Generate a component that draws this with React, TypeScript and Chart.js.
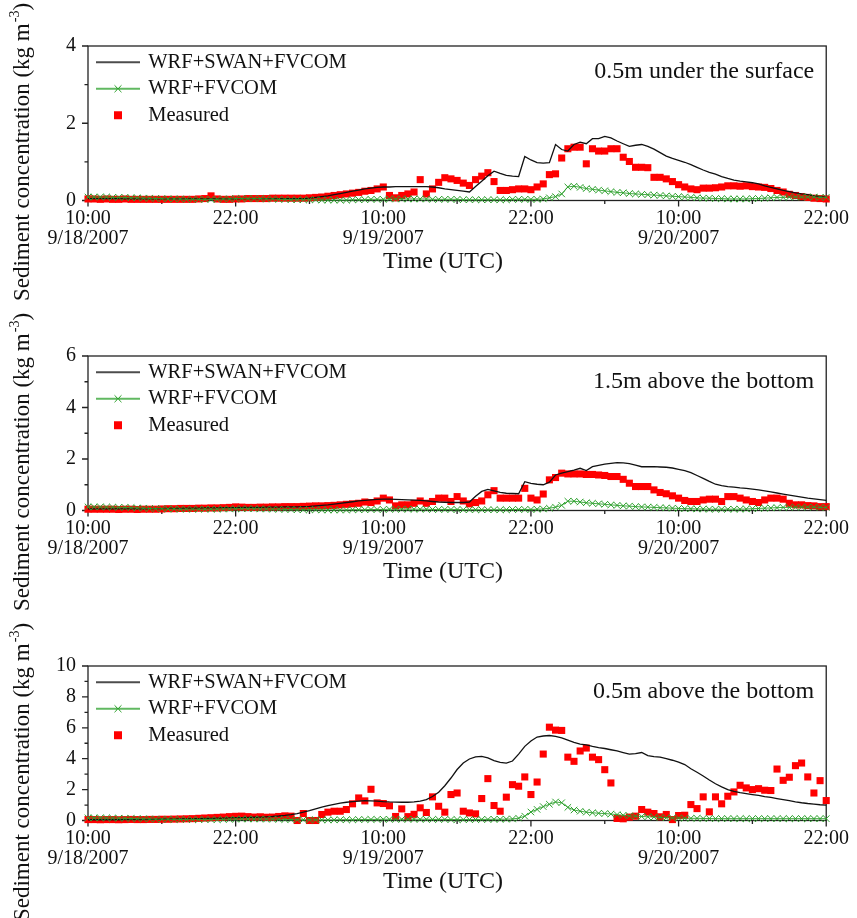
import React, { useEffect, useRef } from 'react';
import { Chart, registerables } from 'chart.js';

Chart.register(...registerables);

// ---- sampling grid and axis labels ----
const STEP_HOURS = 0.5; // one sample every 30 minutes, starting 10:00 9/18/2007
const X_MAX_HOURS = 60;
const X_TICK_HOURS = [0, 12, 24, 36, 48, 60];
const X_TICK_TIMES = ['10:00', '22:00', '10:00', '22:00', '10:00', '22:00'];
const X_TICK_DATES = ['9/18/2007', '', '9/19/2007', '', '9/20/2007', ''];
const X_MINOR_STEP = 6;

const SERIES_NAMES = ['WRF+SWAN+FVCOM', 'WRF+FVCOM', 'Measured'];
const PANEL_LABELS = ['0.5m under the surface', '1.5m above the bottom', '0.5m above the bottom'];
const PANEL_Y_MAX = [4, 6, 10];
const X_TITLE = 'Time (UTC)';
const Y_TITLE_MAIN = 'Sediment concentration (kg m';
const Y_TITLE_SUP = '-3';

// ---- 0.5 m under the surface (kg m-3) ----
const SURFACE_COUPLED = [
  0.05, 0.05, 0.05, 0.05, 0.05, 0.05, 0.04, 0.04, 0.04, 0.04, 0.04, 0.04, 0.04, 0.04, 0.04, 0.04, 0.04, 0.04, 0.04, 0.04,
  0.04, 0.04, 0.04, 0.04, 0.04, 0.05, 0.05, 0.05, 0.05, 0.05, 0.05, 0.05, 0.05, 0.05, 0.05, 0.05,
  0.06, 0.08, 0.10, 0.12, 0.15, 0.18, 0.21, 0.24, 0.27, 0.30, 0.32, 0.34, 0.35,
  0.35, 0.36, 0.36, 0.36, 0.36, 0.36, 0.36, 0.35, 0.33, 0.30, 0.28, 0.26, 0.24, 0.22,
  0.36, 0.50, 0.64, 0.76, 0.70, 0.65, 0.63, 0.62, 1.14, 1.05, 0.98, 0.97, 0.98,
  1.45, 1.32, 1.28, 1.45, 1.51, 1.47, 1.60, 1.60, 1.66, 1.62, 1.54, 1.47, 1.40, 1.43, 1.45,
  1.40, 1.33, 1.24, 1.15, 1.09, 1.04, 0.99, 0.93, 0.86, 0.79, 0.73, 0.68, 0.62, 0.57, 0.53,
  0.50, 0.48, 0.46, 0.43, 0.38, 0.34, 0.30, 0.26, 0.23, 0.20, 0.17, 0.15, 0.12, 0.10, 0.09,
];
const SURFACE_NO_WAVE = [
  0.09, 0.09, 0.09, 0.09, 0.08, 0.08, 0.08, 0.07, 0.07, 0.06, 0.06,
  0.05, 0.05, 0.04, 0.04, 0.04, 0.03, 0.03, 0.03, 0.03, 0.03,
  0.03, 0.04, 0.04, 0.05, 0.05, 0.05, 0.05, 0.05, 0.04, 0.04, 0.03, 0.03, 0.02, 0.02, 0.02, 0.02,
  0.02, 0.01, 0.01, 0.01, 0.01, 0.01, 0.02, 0.02, 0.02, 0.03, 0.03, 0.03,
  0.04, 0.04, 0.04, 0.04, 0.04, 0.04, 0.04, 0.03, 0.03, 0.03, 0.03, 0.03,
  0.02, 0.02, 0.02, 0.02, 0.02, 0.02, 0.02, 0.02, 0.03, 0.03, 0.03, 0.03, 0.03,
  0.04, 0.07, 0.10, 0.17, 0.35, 0.37, 0.34,
  0.31, 0.29, 0.27, 0.25, 0.23, 0.21, 0.20, 0.18, 0.17, 0.16, 0.15, 0.14, 0.13, 0.12, 0.11, 0.10,
  0.09, 0.08, 0.07, 0.06, 0.06, 0.05, 0.05, 0.04, 0.04, 0.04, 0.04, 0.05, 0.05, 0.06,
  0.07, 0.08, 0.08, 0.09, 0.09, 0.09, 0.09, 0.09, 0.08, 0.08,
];
const SURFACE_MEASURED = [
  0.04, 0.04, 0.03, 0.04, 0.03, 0.03, 0.04, 0.03, 0.03, 0.03, 0.03, 0.03, 0.03, 0.03, 0.03, 0.03, 0.03, 0.03, 0.04, 0.05,
  0.12,
  0.04, 0.03, 0.03, 0.04, 0.04, 0.05, 0.05, 0.05, 0.05, 0.06, 0.06, 0.06, 0.06, 0.06, 0.06,
  0.07, 0.08, 0.09, 0.11, 0.13, 0.15, 0.17, 0.19, 0.21, 0.24, 0.26, 0.30,
  0.35, 0.13, 0.07, 0.13, 0.17, 0.22, 0.54, 0.17, 0.30, 0.47, 0.59, 0.56, 0.52,
  0.45, 0.39, 0.54, 0.63, 0.72, 0.49, 0.26, 0.26, 0.28, 0.30, 0.30, 0.28, 0.35,
  0.43, 0.67, 0.69, 1.10, 1.34, 1.38, 1.38, 0.95, 1.34, 1.28, 1.28, 1.34, 1.34,
  1.12, 1.01, 0.86, 0.86, 0.85, 0.60, 0.60, 0.56, 0.49, 0.41, 0.35, 0.30, 0.28,
  0.32, 0.32, 0.33, 0.35, 0.38, 0.38, 0.37, 0.38, 0.36, 0.35, 0.34,
  0.31, 0.26, 0.22, 0.16, 0.13, 0.10, 0.08, 0.06, 0.05, 0.04,
];

// ---- 1.5 m above the bottom (kg m-3) ----
const MIDDLE_COUPLED = [
  0.06, 0.06, 0.06, 0.06, 0.06, 0.06, 0.06, 0.06, 0.06, 0.06, 0.07, 0.07, 0.07, 0.08, 0.08, 0.08, 0.09, 0.09, 0.09, 0.10,
  0.10, 0.10, 0.11, 0.11, 0.11, 0.12, 0.12, 0.12, 0.12, 0.13, 0.13, 0.13, 0.14, 0.14, 0.14, 0.15,
  0.16, 0.18, 0.20, 0.22, 0.25, 0.28, 0.31, 0.34, 0.37, 0.39, 0.41, 0.43, 0.44,
  0.44, 0.43, 0.42, 0.41, 0.40, 0.39, 0.37, 0.35, 0.33, 0.32, 0.31, 0.31, 0.31, 0.33,
  0.55, 0.74, 0.82, 0.76, 0.70, 0.67, 0.66, 0.65, 1.12, 1.05, 1.02, 1.00, 1.10,
  1.38, 1.45, 1.51, 1.57, 1.64, 1.55, 1.70, 1.75, 1.80, 1.83, 1.86, 1.85, 1.82, 1.76, 1.70,
  1.70, 1.70, 1.69, 1.68, 1.65, 1.60, 1.55, 1.47, 1.36, 1.25, 1.13, 1.02, 0.97, 0.93, 0.91,
  0.88, 0.86, 0.83, 0.80, 0.76, 0.72, 0.68, 0.64, 0.60, 0.56, 0.52, 0.48, 0.45, 0.42, 0.39,
];
const MIDDLE_NO_WAVE = [
  0.14, 0.14, 0.14, 0.13, 0.13, 0.12, 0.12, 0.11, 0.10, 0.09, 0.08,
  0.07, 0.07, 0.06, 0.06, 0.05, 0.05, 0.05, 0.05, 0.05, 0.05,
  0.05, 0.06, 0.06, 0.07, 0.07, 0.07, 0.07, 0.06, 0.06, 0.05, 0.05, 0.04, 0.04, 0.03, 0.03, 0.03,
  0.03, 0.02, 0.02, 0.02, 0.02, 0.02, 0.03, 0.03, 0.03, 0.04, 0.04, 0.04,
  0.05, 0.05, 0.05, 0.05, 0.05, 0.05, 0.05, 0.04, 0.04, 0.04, 0.04, 0.04,
  0.03, 0.03, 0.03, 0.03, 0.03, 0.03, 0.03, 0.03, 0.04, 0.04, 0.04, 0.04, 0.05,
  0.06, 0.09, 0.13, 0.20, 0.36, 0.36, 0.33,
  0.30, 0.28, 0.26, 0.24, 0.22, 0.20, 0.18, 0.17, 0.15, 0.14, 0.13, 0.12, 0.11, 0.10, 0.09, 0.08,
  0.07, 0.07, 0.06, 0.06, 0.05, 0.05, 0.05, 0.05, 0.05, 0.05, 0.06, 0.07, 0.08, 0.09,
  0.10, 0.11, 0.12, 0.12, 0.13, 0.13, 0.13, 0.13, 0.12, 0.12,
];
const MIDDLE_MEASURED = [
  0.05, 0.05, 0.05, 0.05, 0.05, 0.04, 0.05, 0.05, 0.04, 0.05, 0.05, 0.05, 0.06, 0.07, 0.07, 0.08, 0.08, 0.08, 0.09, 0.09,
  0.10, 0.10, 0.11, 0.12, 0.14, 0.13, 0.12, 0.12, 0.13, 0.13, 0.14, 0.14, 0.15, 0.15, 0.15, 0.16,
  0.17, 0.18, 0.18, 0.19, 0.20, 0.22, 0.24, 0.26, 0.28, 0.33,
  0.31, 0.37, 0.48, 0.41, 0.18, 0.22, 0.22, 0.28, 0.37, 0.28, 0.35, 0.48, 0.48, 0.35, 0.54,
  0.37, 0.26, 0.31, 0.37, 0.61, 0.77, 0.48, 0.48, 0.48, 0.48, 0.86, 0.48, 0.41, 0.64, 1.19,
  1.28, 1.45, 1.42, 1.42, 1.42, 1.40, 1.40, 1.38, 1.36, 1.32, 1.32, 1.21, 1.06, 0.93, 0.93,
  0.93, 0.80, 0.70, 0.65, 0.57, 0.48, 0.39, 0.35, 0.35, 0.41, 0.44, 0.44, 0.35, 0.54, 0.54,
  0.48, 0.41, 0.35, 0.31, 0.41, 0.48, 0.48, 0.44, 0.28, 0.22, 0.22, 0.19, 0.18, 0.15, 0.15,
];

// ---- 0.5 m above the bottom (kg m-3) ----
const BOTTOM_COUPLED = [
  0.05, 0.05, 0.05, 0.05, 0.05, 0.05, 0.06, 0.06, 0.06, 0.06, 0.07, 0.07, 0.08, 0.08, 0.09, 0.10, 0.10, 0.11, 0.12, 0.13,
  0.14, 0.15, 0.16, 0.17, 0.18, 0.19, 0.20, 0.21, 0.22, 0.24, 0.26, 0.29,
  0.33, 0.38, 0.45, 0.54, 0.64, 0.75, 0.86, 0.96, 1.05, 1.12, 1.18, 1.22, 1.26, 1.28, 1.27, 1.25,
  1.22, 1.20, 1.19, 1.18, 1.18, 1.20, 1.25, 1.35, 1.55, 1.83, 2.25, 2.75, 3.30, 3.72, 3.98, 4.12,
  4.15, 4.05, 3.88, 3.76, 3.72, 3.85, 4.30, 4.80, 5.15, 5.40, 5.47, 5.50, 5.45, 5.35, 5.20, 5.05,
  4.95, 4.90, 4.80, 4.72, 4.66, 4.58, 4.50, 4.40, 4.30, 4.33, 4.40, 4.20, 4.14, 4.10, 4.00, 3.90, 3.78, 3.62,
  3.35, 3.12, 2.88, 2.62, 2.38, 2.18, 2.00, 1.88, 1.80, 1.74, 1.68, 1.62, 1.55, 1.49, 1.42, 1.35, 1.28, 1.21, 1.15, 1.10, 1.06, 1.02, 0.99,
];
const BOTTOM_NO_WAVE = [
  0.17, 0.17, 0.17, 0.16, 0.16, 0.15, 0.14, 0.13, 0.12, 0.11, 0.10,
  0.09, 0.08, 0.08, 0.07, 0.07, 0.06, 0.06, 0.06, 0.06, 0.06,
  0.06, 0.07, 0.08, 0.09, 0.10, 0.10, 0.10, 0.10, 0.09, 0.09, 0.08, 0.07, 0.06, 0.05, 0.05, 0.04,
  0.04, 0.04, 0.04, 0.04, 0.05, 0.05, 0.05, 0.06, 0.06, 0.07, 0.07, 0.08,
  0.08, 0.08, 0.08, 0.08, 0.08, 0.08, 0.08, 0.07, 0.07, 0.07, 0.06, 0.06,
  0.06, 0.06, 0.06, 0.07, 0.07, 0.08, 0.08, 0.09, 0.10, 0.15, 0.28, 0.55, 0.72,
  0.90, 1.05, 1.20, 1.15, 0.85, 0.68, 0.60,
  0.54, 0.50, 0.47, 0.45, 0.42, 0.38, 0.34, 0.30, 0.28, 0.26, 0.24, 0.22, 0.20, 0.18, 0.17, 0.16,
  0.15, 0.14, 0.14, 0.13, 0.13, 0.12, 0.12, 0.12, 0.12, 0.12, 0.12, 0.12, 0.12, 0.12,
  0.12, 0.12, 0.12, 0.12, 0.12, 0.12, 0.12, 0.12, 0.12, 0.12,
];
const BOTTOM_MEASURED = [
  0.06, 0.06, 0.05, 0.06, 0.06, 0.05, 0.06, 0.07, 0.06, 0.06, 0.07, 0.07, 0.08, 0.08, 0.09, 0.10, 0.11, 0.12, 0.14, 0.16,
  0.18, 0.20, 0.22, 0.25, 0.27, 0.28, 0.25, 0.22, 0.24, 0.21, 0.22, 0.26, 0.30, 0.28,
  0.00, 0.45, 0.00, 0.00, 0.39, 0.54, 0.60, 0.60, 0.71, 1.08, 1.46, 1.27, 2.02, 1.14,
  1.10, 0.95, 0.26, 0.75, 0.25, 0.40, 0.82, 0.52, 1.53, 0.92, 0.54, 1.68, 1.78, 0.60,
  0.49, 0.43, 1.42, 2.71, 0.97, 0.60, 1.51, 2.32, 2.22, 2.82, 1.68, 2.49, 4.30, 6.04,
  5.85, 5.83, 4.10, 3.83, 4.50, 4.69, 4.10, 3.94, 3.29, 2.43, 0.13, 0.11, 0.22, 0.28,
  0.71, 0.54, 0.45, 0.24, 0.39, 0.06, 0.32, 0.34, 1.03, 0.77, 1.53, 0.56, 1.53, 1.08,
  1.57, 1.85, 2.28, 2.11, 2.00, 2.06, 1.96, 1.94, 3.33, 2.60, 2.80, 3.55, 3.72, 2.82, 1.78, 2.58, 1.29,
];

const PANEL_SERIES = [
  [SURFACE_COUPLED, SURFACE_NO_WAVE, SURFACE_MEASURED],
  [MIDDLE_COUPLED, MIDDLE_NO_WAVE, MIDDLE_MEASURED],
  [BOTTOM_COUPLED, BOTTOM_NO_WAVE, BOTTOM_MEASURED],
];

// ---- styling ----
const FONT = '"Liberation Serif", "Times New Roman", Times, serif';
const INK = '#111111';
const AXIS_COLOR = '#222222';
const COUPLED_COLOR = '#111111';
const NO_WAVE_COLOR = 'rgb(45,160,45)';
const MEASURED_COLOR = '#ff0000';
const CANVAS_W = 857;
const CANVAS_H = 306;
const PANEL_PITCH = 310;
const PLOT_TOP = 46;
const PLOT_BOTTOM = 200.5;

const toPoints = (values: number[]) => values.map((v, i) => ({ x: i * STEP_HOURS, y: v }));

// small images used as legend symbols
function legendSymbol(kind: 'line' | 'cross' | 'square'): HTMLCanvasElement {
  const c = document.createElement('canvas');
  c.width = 48;
  c.height = 14;
  const g = c.getContext('2d') as CanvasRenderingContext2D;
  const cx = 26;
  const cy = 7;
  if (kind === 'line' || kind === 'cross') {
    g.strokeStyle = kind === 'line' ? COUPLED_COLOR : NO_WAVE_COLOR;
    g.lineWidth = 1.3;
    g.beginPath();
    g.moveTo(4, cy);
    g.lineTo(48, cy);
    g.stroke();
  }
  if (kind === 'cross') {
    g.lineWidth = 1;
    g.beginPath();
    g.moveTo(cx - 3.5, cy - 3.5);
    g.lineTo(cx + 3.5, cy + 3.5);
    g.moveTo(cx - 3.5, cy + 3.5);
    g.lineTo(cx + 3.5, cy - 3.5);
    g.stroke();
  }
  if (kind === 'square') {
    g.fillStyle = MEASURED_COLOR;
    g.fillRect(cx - 4, cy - 4, 8, 8);
  }
  return c;
}

function Panel({ index }: { index: number }) {
  const ref = useRef<HTMLCanvasElement>(null);

  useEffect(() => {
    const canvas = ref.current;
    if (!canvas) return;
    const yMax = PANEL_Y_MAX[index];
    const [coupled, noWave, measured] = PANEL_SERIES[index];
    const symbols = [legendSymbol('line'), legendSymbol('cross'), legendSymbol('square')];

    const framePlugin = {
      id: 'frameAndTicks',
      beforeDatasetsDraw(chart: any) {
        const { ctx, chartArea: a, scales } = chart;
        const xs = scales.x;
        const ys = scales.y;
        ctx.save();
        ctx.strokeStyle = AXIS_COLOR;
        ctx.lineWidth = 1.3;
        ctx.strokeRect(a.left, a.top, a.right - a.left, a.bottom - a.top);
        ctx.beginPath();
        for (let h = 0; h <= X_MAX_HOURS; h += X_MINOR_STEP) {
          const px = xs.getPixelForValue(h);
          const len = X_TICK_HOURS.includes(h) ? 6 : 3.5;
          ctx.moveTo(px, a.bottom);
          ctx.lineTo(px, a.bottom + len);
        }
        for (let v = 0; v <= yMax; v += 1) {
          const py = ys.getPixelForValue(v);
          const len = v % 2 === 0 ? 6 : 3.5;
          ctx.moveTo(a.left - len, py);
          ctx.lineTo(a.left, py);
        }
        ctx.stroke();
        ctx.restore();
      },
    };

    const textPlugin = {
      id: 'panelTexts',
      afterDraw(chart: any) {
        const { ctx, chartArea: a } = chart;
        ctx.save();
        ctx.fillStyle = INK;
        ctx.font = `24px ${FONT}`;
        ctx.textAlign = 'right';
        ctx.textBaseline = 'alphabetic';
        ctx.fillText(PANEL_LABELS[index], a.right - 12, a.top + 32);

        ctx.textAlign = 'center';
        ctx.textBaseline = 'middle';
        ctx.fillText(X_TITLE, 443, 262);

        ctx.translate(29, 152);
        ctx.rotate(-Math.PI / 2);
        ctx.textAlign = 'left';
        ctx.textBaseline = 'alphabetic';
        const big = `23px ${FONT}`;
        const small = `14px ${FONT}`;
        ctx.font = big;
        const w1 = ctx.measureText(Y_TITLE_MAIN).width;
        const w3 = ctx.measureText(')').width;
        ctx.font = small;
        const w2 = ctx.measureText(Y_TITLE_SUP).width;
        let x0 = -(w1 + w2 + w3 + 1) / 2;
        ctx.font = big;
        ctx.fillText(Y_TITLE_MAIN, x0, 0);
        x0 += w1 + 1;
        ctx.font = small;
        ctx.fillText(Y_TITLE_SUP, x0, -10);
        x0 += w2;
        ctx.font = big;
        ctx.fillText(')', x0, 0);
        ctx.restore();
      },
    };

    const chart = new Chart(canvas, {
      type: 'line',
      data: {
        datasets: [
          {
            label: SERIES_NAMES[1],
            data: toPoints(noWave),
            borderColor: NO_WAVE_COLOR,
            borderWidth: 0.9,
            pointStyle: 'crossRot',
            pointRadius: 4.6,
            pointBorderColor: NO_WAVE_COLOR,
            pointBorderWidth: 1,
            pointBackgroundColor: 'rgba(0,0,0,0)',
            tension: 0,
            clip: false,
          },
          {
            label: SERIES_NAMES[0],
            data: toPoints(coupled),
            borderColor: COUPLED_COLOR,
            borderWidth: 1.3,
            pointRadius: 0,
            tension: 0,
            clip: false,
          },
          {
            label: SERIES_NAMES[2],
            data: toPoints(measured),
            showLine: false,
            pointStyle: 'rect',
            pointRadius: 5,
            pointBackgroundColor: MEASURED_COLOR,
            pointBorderColor: MEASURED_COLOR,
            pointBorderWidth: 0,
            clip: false,
          },
        ],
      },
      options: {
        responsive: false,
        animation: false,
        devicePixelRatio: 1,
        events: [],
        layout: { padding: { top: PLOT_TOP, right: 28, bottom: 0, left: 0 } },
        plugins: {
          tooltip: { enabled: false },
          legend: {
            position: 'chartArea',
            align: 'start',
            // an empty title row pushes the key down to the top edge of the plot frame
            title: {
              display: true,
              text: ' ',
              font: { family: FONT, size: 1, lineHeight: 1 },
              padding: { top: PLOT_TOP - 1, bottom: 0 },
            },
            labels: {
              usePointStyle: true,
              pointStyleWidth: 44,
              padding: 6,
              color: INK,
              font: { family: FONT, size: 20.5 },
              generateLabels: () =>
                SERIES_NAMES.map((name, k) => ({
                  text: name,
                  pointStyle: symbols[k],
                  fillStyle: 'rgba(0,0,0,0)',
                  strokeStyle: 'rgba(0,0,0,0)',
                  lineWidth: 0,
                  fontColor: INK,
                  hidden: false,
                  datasetIndex: k,
                })),
            },
          },
        },
        scales: {
          x: {
            type: 'linear',
            min: 0,
            max: X_MAX_HOURS,
            offset: false,
            afterBuildTicks: (scale: any) => {
              scale.ticks = X_TICK_HOURS.map((v) => ({ value: v }));
            },
            afterFit: (scale: any) => {
              scale.height = CANVAS_H - PLOT_BOTTOM;
            },
            grid: { display: false, drawTicks: false },
            border: { display: false },
            ticks: {
              autoSkip: false,
              maxRotation: 0,
              minRotation: 0,
              padding: 8,
              color: INK,
              font: { family: FONT, size: 20, lineHeight: 1 },
              callback: (value: any) => {
                const k = X_TICK_HOURS.indexOf(Number(value));
                if (k < 0) return '';
                return X_TICK_DATES[k] ? [X_TICK_TIMES[k], X_TICK_DATES[k]] : X_TICK_TIMES[k];
              },
            },
          },
          y: {
            type: 'linear',
            min: 0,
            max: yMax,
            afterFit: (scale: any) => {
              scale.width = 88;
            },
            grid: { display: false, drawTicks: false },
            border: { display: false },
            ticks: {
              stepSize: 2,
              padding: 12,
              color: INK,
              font: { family: FONT, size: 20 },
              callback: (value: any) => String(value),
            },
          },
        },
      },
      plugins: [framePlugin, textPlugin],
    } as any);

    return () => chart.destroy();
  }, [index]);

  return (
    <canvas
      ref={ref}
      width={CANVAS_W}
      height={CANVAS_H}
      style={{ position: 'absolute', left: 0, top: index * PANEL_PITCH, width: CANVAS_W, height: CANVAS_H }}
    />
  );
}

export default function App() {
  return (
    <div
      style={{
        position: 'absolute',
        left: 0,
        top: 0,
        width: CANVAS_W,
        height: 918,
        overflow: 'hidden',
        background: '#ffffff',
      }}
    >
      {PANEL_LABELS.map((_, i) => (
        <Panel key={i} index={i} />
      ))}
    </div>
  );
}
